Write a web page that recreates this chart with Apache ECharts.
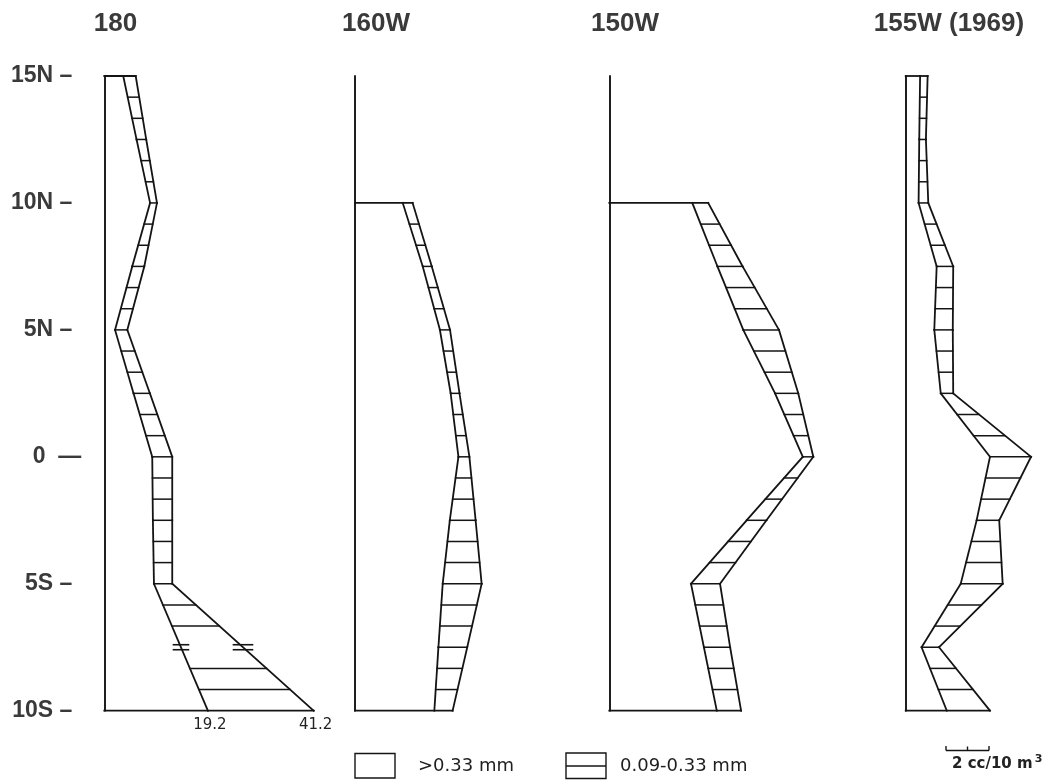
<!DOCTYPE html>
<html>
<head>
<meta charset="utf-8">
<script src="https://cdn.jsdelivr.net/npm/echarts@6/dist/echarts.min.js"></script>
<style>
  html, body { margin: 0; padding: 0; background: #ffffff; }
  #chart { width: 1061px; height: 780px; }
</style>
</head>
<body>
<div id="chart"></div>
<script>
// Station latitudes (degrees, north positive), shared by all sections
const latitudes = [15, 12.5, 10, 7.5, 5, 2.5, 0, -2.5, -5, -7.5, -10];
const latTicks = [-10, -5, 0, 5, 10, 15];
const latTickLabels = ['10S –', '5S –', '0  —', '5N –', '10N –', '15N –'];

const sectionNames = ['180', '160W', '150W', '155W (1969)'];

// Displacement volume (cc/10 m³): fraction retained > 0.33 mm
const large180 = [0.88, 1.50, 2.13, 1.30, 0.50, 1.36, 2.23, 2.26, 2.31, null, 19.2];
// Total displacement volume (> 0.09 mm) = > 0.33 mm plus 0.09-0.33 mm
const total180 = [1.46, 1.95, 2.45, 1.86, 1.07, 2.12, 3.16, 3.16, 3.16, null, 41.2];

const large160W = [null, null, 2.22, 3.15, 3.95, 4.45, 4.81, 4.41, 4.08, 3.88, 3.69];
const total160W = [null, null, 2.68, 3.57, 4.42, 4.86, 5.32, 5.61, 5.89, 5.22, 4.54];

const large150W = [null, null, 3.86, 5.03, 6.23, 7.71, 9.00, 6.39, 3.80, 4.40, 5.00];
const total150W = [null, null, 4.60, 6.20, 7.89, 8.79, 9.49, 7.31, 5.15, 5.62, 6.13];

const large155W = [0.67, 0.63, 0.60, 1.44, 1.33, 1.63, 3.92, 3.30, 2.56, 0.74, 1.91];
const total155W = [1.02, 0.94, 1.05, 2.21, 2.19, 2.21, 5.83, 4.35, 4.51, 1.55, 3.92];

const scaleBarValue = 2;            // cc/10 m³ shown by the scale bar
const hatchStep = 5 / 6;            // spacing of the horizontal hatching, degrees

// ---------------------------------------------------------------------------
const INK = '#141414';
const TEXT = '#3a3a3a';
const PX_PER_UNIT = 21.5;           // horizontal scale, px per cc/10 m³
const GRID_TOP = 76;
const GRID_HEIGHT = 634.7;

const sections = [
  { large: large180, total: total180, left: 104.3, max: 42,
    // off-scale stretch of the 180 section is compressed on its axis
    breaks: [{ start: 4.6, end: 19.0, gap: 0.02 }, { start: 19.4, end: 36.5, gap: 0.02 }],
    breakMarks: [-7.5], labelAbove: 10 },
  { large: large160W, total: total160W, left: 355, max: 10, breaks: [], breakMarks: [], labelAbove: Infinity },
  { large: large150W, total: total150W, left: 609.3, max: 10, breaks: [], breakMarks: [], labelAbove: Infinity },
  { large: large155W, total: total155W, left: 905.7, max: 6.5, breaks: [], breakMarks: [], labelAbove: Infinity }
];

const titleCenters = [115.5, 376, 625, 949];

const hatchLats = [];
for (let k = 1; k < 30; k++) hatchLats.push(Math.round((15 - k * hatchStep) * 1e6) / 1e6);

function seg(a, b, w) {
  return { type: 'line', shape: { x1: a[0], y1: a[1], x2: b[0], y2: b[1] },
           style: { stroke: INK, lineWidth: w || 1.8, lineCap: 'square' } };
}

function rowsOf(s) {
  const rows = [];
  latitudes.forEach((lat, i) => {
    if (s.large[i] != null && s.total[i] != null) rows.push({ lat, large: s.large[i], total: s.total[i] });
  });
  return rows;
}

function makeRender(rows, s) {
  const near = (a, b) => Math.abs(a - b) < 1e-6;
  return function (params, api) {
    const i = params.dataIndex;
    const n = rows.length;
    const r = rows[i];
    const children = [];
    const pIn = api.coord([r.large, r.lat]);
    const pOut = api.coord([r.total, r.lat]);

    // closing line from the baseline at the first and last station
    if (i === 0 || i === n - 1) children.push(seg(api.coord([0, r.lat]), pOut));

    // value labels for stations off the drawn scale
    [r.large, r.total].forEach(v => {
      if (v > s.labelAbove) {
        const p = api.coord([v, r.lat]);
        children.push({ type: 'text', style: {
          text: v.toFixed(1), x: p[0] + 2, y: p[1] + 14.5, align: 'center', verticalAlign: 'middle',
          fontFamily: 'DejaVu Sans', fontSize: 15, fill: '#222' } });
      }
    });

    if (i < n - 1) {
      const q = rows[i + 1];
      const qIn = api.coord([q.large, q.lat]);
      const qOut = api.coord([q.total, q.lat]);
      children.push(seg(pIn, qIn), seg(pOut, qOut));
      const atY = (a, b, y) => a[0] + (y - a[1]) / (b[1] - a[1]) * (b[0] - a[0]);

      hatchLats.forEach(h => {
        if (h <= q.lat || h > r.lat || h >= rows[0].lat - 1e-6) return;
        if (s.breakMarks.some(m => near(m, h))) return;
        const y = api.coord([0, h])[1];
        children.push(seg([atY(pIn, qIn, y), y], [atY(pOut, qOut, y), y], 1.5));
      });

      s.breakMarks.forEach(m => {
        if (m <= q.lat || m > r.lat) return;
        const y = api.coord([0, m])[1];
        [[pIn, qIn, 7.5], [pOut, qOut, 9.5]].forEach(([a, b, hw]) => {
          const x = atY(a, b, y);
          children.push(seg([x - hw, y - 2.5], [x + hw, y - 2.5], 1.6));
          children.push(seg([x - hw, y + 2.5], [x + hw, y + 2.5], 1.6));
        });
      });
    }
    return { type: 'group', children };
  };
}

const grids = [], xAxes = [], yAxes = [], series = [];
sections.forEach((s, k) => {
  const removed = s.breaks.reduce((acc, b) => acc + (b.end - b.start) - b.gap, 0);
  grids.push({ left: s.left, top: GRID_TOP, width: PX_PER_UNIT * (s.max - removed), height: GRID_HEIGHT });
  const xa = { type: 'value', gridIndex: k, min: 0, max: s.max, show: false };
  if (s.breaks.length) { xa.breaks = s.breaks; xa.breakArea = { show: false }; }
  xAxes.push(xa);
  yAxes.push({
    type: 'value', gridIndex: k, min: -10, max: 15, interval: 5,
    axisLine: { show: true, onZero: false, lineStyle: { color: INK, width: 1.9 } },
    axisTick: { show: false }, splitLine: { show: false },
    axisLabel: {
      show: k === 0, margin: 23,
      formatter: v => {
        const t = latTickLabels[latTicks.indexOf(v)];
        return t.indexOf('—') >= 0 ? '{z|' + t + '}' : '{n|' + t + '}';
      },
      rich: {
        n: { fontFamily: 'Liberation Sans', fontWeight: 'bold', fontSize: 23, color: TEXT, padding: [0, 9, 0, 0] },
        z: { fontFamily: 'Liberation Sans', fontWeight: 'bold', fontSize: 23, color: TEXT }
      }
    }
  });
  const rows = rowsOf(s);
  series.push({
    type: 'custom', name: sectionNames[k], xAxisIndex: k, yAxisIndex: k, clip: false, silent: true,
    data: rows.map(r => [r.large, r.total, r.lat]),
    encode: { x: [0, 1], y: 2 },
    renderItem: makeRender(rows, s)
  });
});

const graphic = [];
sectionNames.forEach((name, k) => {
  graphic.push({ type: 'text', x: titleCenters[k], y: 24, style: {
    text: name, align: 'center', verticalAlign: 'middle',
    fontFamily: 'Liberation Sans', fontWeight: 'bold', fontSize: 26, fill: TEXT } });
});

// Legend: open box = > 0.33 mm, hatched box = 0.09-0.33 mm
graphic.push(
  { type: 'rect', shape: { x: 355, y: 753.5, width: 40, height: 24.5 },
    style: { fill: 'none', stroke: INK, lineWidth: 1.4 } },
  { type: 'text', x: 418, y: 766.5, style: { text: '>0.33 mm', verticalAlign: 'middle',
    fontFamily: 'DejaVu Sans', fontSize: 18, fill: '#1e1e1e' } },
  { type: 'rect', shape: { x: 566, y: 753, width: 40, height: 25.5 },
    style: { fill: 'none', stroke: INK, lineWidth: 1.4 } },
  { type: 'line', shape: { x1: 566, y1: 766, x2: 606, y2: 766 }, style: { stroke: INK, lineWidth: 1.4 } },
  { type: 'text', x: 620, y: 766.5, style: { text: '0.09-0.33 mm', verticalAlign: 'middle',
    fontFamily: 'DejaVu Sans', fontSize: 18, fill: '#1e1e1e' } }
);

// Scale bar
const barLen = scaleBarValue * PX_PER_UNIT;
const bx = 946, by = 750.5;
graphic.push(
  { type: 'line', shape: { x1: bx, y1: by, x2: bx + barLen, y2: by }, style: { stroke: INK, lineWidth: 1.4 } },
  { type: 'line', shape: { x1: bx, y1: by, x2: bx, y2: by - 4.5 }, style: { stroke: INK, lineWidth: 1.4 } },
  { type: 'line', shape: { x1: bx + barLen / 2, y1: by, x2: bx + barLen / 2, y2: by - 4 }, style: { stroke: INK, lineWidth: 1.4 } },
  { type: 'line', shape: { x1: bx + barLen, y1: by, x2: bx + barLen, y2: by - 4.5 }, style: { stroke: INK, lineWidth: 1.4 } },
  { type: 'text', x: 952, y: 764, style: {
    text: '{a|2 cc/10 m}{s|3}', verticalAlign: 'middle',
    rich: {
      a: { fontFamily: 'DejaVu Sans', fontWeight: 'bold', fontSize: 15, fill: '#222' },
      s: { fontFamily: 'DejaVu Sans', fontWeight: 'bold', fontSize: 11, fill: '#222', padding: [0, 0, 9, 2] }
    } } }
);

const chart = echarts.init(document.getElementById('chart'), null, { renderer: 'canvas' });
chart.setOption({
  backgroundColor: '#ffffff',
  animation: false,
  grid: grids,
  xAxis: xAxes,
  yAxis: yAxes,
  series: series,
  graphic: graphic
});
</script>
</body>
</html>
